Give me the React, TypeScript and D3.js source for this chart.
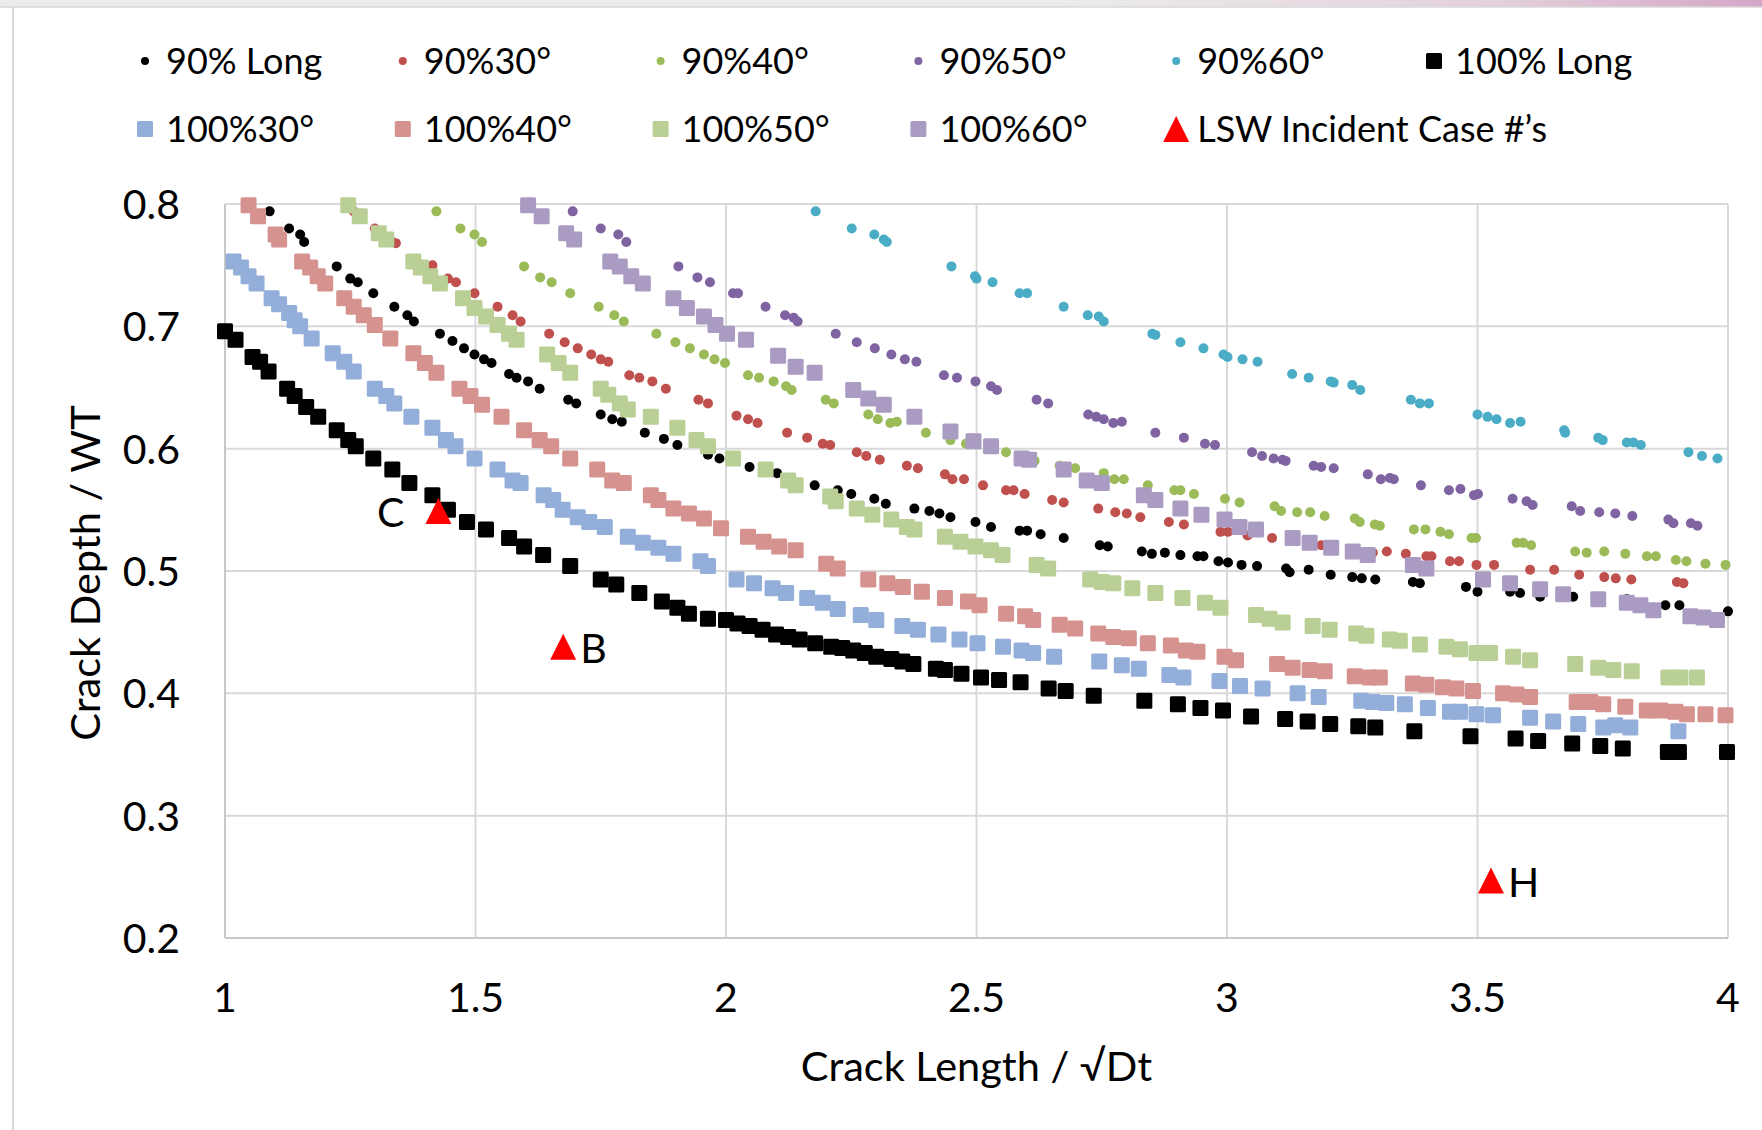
import React from 'react';
import * as d3 from 'd3';

// 90% series (small dots)
const long90: [number, number][] = [
  [1.089,0.794],[1.128,0.780],[1.150,0.775],[1.158,0.769],[1.223,0.749],[1.250,0.739],[1.265,0.736],[1.296,0.727],
  [1.338,0.716],[1.364,0.709],[1.377,0.704],[1.429,0.694],[1.454,0.688],[1.477,0.682],[1.498,0.677],[1.517,0.673],
  [1.532,0.670],[1.567,0.661],[1.582,0.658],[1.605,0.655],[1.628,0.649],[1.685,0.640],[1.701,0.637],[1.750,0.628],
  [1.773,0.624],[1.792,0.622],[1.838,0.613],[1.876,0.608],[1.903,0.603],[1.964,0.595],[1.987,0.592],[2.047,0.585],
  [2.102,0.580],[2.177,0.570],[2.223,0.566],[2.250,0.563],[2.296,0.559],[2.319,0.555],[2.376,0.551],[2.406,0.549],
  [2.426,0.547],[2.448,0.544],[2.498,0.540],[2.529,0.536],[2.586,0.533],[2.601,0.533],[2.628,0.530],[2.674,0.527],
  [2.746,0.521],[2.762,0.520],[2.830,0.516],[2.850,0.514],[2.876,0.515],[2.907,0.513],[2.941,0.512],[2.953,0.512],
  [2.983,0.508],[3.002,0.507],[3.029,0.505],[3.060,0.504],[3.118,0.502],[3.125,0.499],[3.163,0.501],[3.207,0.497],
  [3.250,0.495],[3.269,0.494],[3.296,0.493],[3.371,0.491],[3.385,0.490],[3.477,0.487],[3.500,0.483],[3.565,0.483],
  [3.585,0.482],[3.625,0.479],[3.691,0.479],[3.798,0.477],[3.875,0.472],[3.903,0.472],[4.000,0.467],
];

const deg30_90: [number, number][] = [
  [1.257,0.794],[1.299,0.780],[1.334,0.769],[1.341,0.768],[1.414,0.750],[1.445,0.739],[1.461,0.736],[1.498,0.727],
  [1.544,0.716],[1.574,0.709],[1.590,0.704],[1.647,0.694],[1.678,0.687],[1.704,0.682],[1.731,0.677],[1.750,0.673],
  [1.765,0.671],[1.807,0.660],[1.827,0.658],[1.853,0.655],[1.880,0.649],[1.945,0.640],[1.964,0.637],[2.021,0.627],
  [2.044,0.624],[2.063,0.621],[2.122,0.613],[2.162,0.609],[2.193,0.604],[2.208,0.603],[2.261,0.597],[2.280,0.594],
  [2.307,0.591],[2.361,0.586],[2.383,0.584],[2.437,0.579],[2.452,0.575],[2.475,0.575],[2.513,0.570],[2.559,0.566],
  [2.574,0.566],[2.596,0.563],[2.651,0.558],[2.674,0.556],[2.743,0.551],[2.777,0.548],[2.800,0.547],[2.827,0.544],
  [2.884,0.540],[2.914,0.538],[2.987,0.532],[3.002,0.532],[3.041,0.529],[3.090,0.527],[3.188,0.521],[3.291,0.515],
  [3.319,0.516],[3.357,0.514],[3.398,0.512],[3.408,0.512],[3.445,0.508],[3.463,0.508],[3.498,0.505],[3.533,0.505],
  [3.605,0.501],[3.653,0.501],[3.703,0.497],[3.753,0.495],[3.776,0.494],[3.807,0.493],[3.898,0.491],[3.911,0.490],
];

const deg40_90: [number, number][] = [
  [1.422,0.794],[1.470,0.780],[1.498,0.775],[1.513,0.769],[1.597,0.749],[1.629,0.740],[1.652,0.736],[1.689,0.727],
  [1.746,0.716],[1.777,0.709],[1.796,0.704],[1.861,0.694],[1.899,0.687],[1.928,0.682],[1.956,0.677],[1.977,0.673],
  [1.998,0.670],[2.044,0.660],[2.066,0.658],[2.095,0.655],[2.120,0.651],[2.131,0.648],[2.199,0.640],[2.215,0.637],
  [2.284,0.628],[2.303,0.624],[2.328,0.621],[2.341,0.622],[2.399,0.613],[2.448,0.607],[2.479,0.604],[2.559,0.597],
  [2.616,0.590],[2.666,0.586],[2.697,0.584],[2.754,0.580],[2.775,0.575],[2.794,0.575],[2.842,0.570],[2.895,0.566],
  [2.907,0.566],[2.934,0.563],[2.996,0.559],[3.025,0.556],[3.095,0.553],[3.108,0.549],[3.140,0.548],[3.166,0.548],
  [3.195,0.545],[3.255,0.543],[3.265,0.540],[3.295,0.538],[3.305,0.537],[3.373,0.534],[3.396,0.534],[3.426,0.532],
  [3.443,0.530],[3.488,0.527],[3.497,0.527],[3.578,0.523],[3.591,0.523],[3.607,0.521],[3.695,0.516],[3.718,0.515],
  [3.753,0.516],[3.795,0.514],[3.838,0.512],[3.856,0.512],[3.896,0.509],[3.917,0.508],[3.955,0.506],[3.995,0.505],
];

const deg50_90: [number, number][] = [
  [1.694,0.794],[1.750,0.780],[1.785,0.775],[1.801,0.769],[1.905,0.749],[1.943,0.740],[1.968,0.736],[2.014,0.727],
  [2.024,0.727],[2.079,0.716],[2.118,0.709],[2.135,0.707],[2.143,0.704],[2.219,0.694],[2.261,0.687],[2.297,0.682],
  [2.330,0.677],[2.357,0.673],[2.380,0.671],[2.435,0.660],[2.461,0.658],[2.498,0.655],[2.529,0.651],[2.541,0.648],
  [2.620,0.640],[2.643,0.637],[2.723,0.628],[2.739,0.626],[2.754,0.624],[2.773,0.621],[2.790,0.622],[2.857,0.613],
  [2.914,0.609],[2.956,0.604],[2.976,0.603],[3.050,0.597],[3.070,0.594],[3.093,0.592],[3.111,0.591],[3.117,0.590],
  [3.173,0.586],[3.188,0.585],[3.213,0.584],[3.281,0.579],[3.307,0.575],[3.325,0.576],[3.333,0.575],[3.387,0.570],
  [3.443,0.566],[3.466,0.567],[3.493,0.562],[3.501,0.563],[3.570,0.559],[3.598,0.557],[3.610,0.554],[3.688,0.553],
  [3.705,0.549],[3.743,0.548],[3.775,0.547],[3.809,0.545],[3.881,0.542],[3.891,0.539],[3.926,0.539],[3.939,0.537],
];

const deg60_90: [number, number][] = [
  [2.179,0.794],[2.251,0.780],[2.296,0.775],[2.315,0.771],[2.321,0.769],[2.450,0.749],[2.497,0.741],[2.500,0.739],
  [2.532,0.736],[2.586,0.727],[2.601,0.727],[2.674,0.716],[2.722,0.709],[2.744,0.708],[2.754,0.704],[2.851,0.694],
  [2.857,0.693],[2.907,0.687],[2.953,0.682],[2.993,0.677],[3.001,0.675],[3.031,0.673],[3.061,0.671],[3.130,0.661],
  [3.163,0.658],[3.207,0.655],[3.213,0.654],[3.250,0.652],[3.266,0.648],[3.367,0.640],[3.385,0.637],[3.403,0.637],
  [3.500,0.628],[3.520,0.626],[3.538,0.624],[3.565,0.621],[3.586,0.622],[3.673,0.615],[3.675,0.613],[3.741,0.609],
  [3.750,0.607],[3.798,0.605],[3.811,0.605],[3.826,0.603],[3.921,0.597],[3.948,0.594],[3.979,0.592],
];

// 100% series (squares)
const long100: [number, number][] = [
  [1.000,0.696],[1.021,0.689],[1.055,0.675],[1.070,0.671],[1.087,0.663],[1.124,0.649],[1.139,0.643],[1.162,0.634],
  [1.186,0.626],[1.223,0.615],[1.246,0.607],[1.261,0.602],[1.296,0.592],[1.334,0.583],[1.368,0.572],[1.414,0.562],
  [1.445,0.550],[1.483,0.540],[1.521,0.534],[1.567,0.527],[1.597,0.520],[1.635,0.513],[1.689,0.504],[1.750,0.493],
  [1.781,0.489],[1.827,0.482],[1.872,0.475],[1.903,0.470],[1.926,0.465],[1.964,0.461],[2.000,0.460],[2.023,0.457],
  [2.047,0.455],[2.073,0.452],[2.100,0.448],[2.124,0.446],[2.147,0.444],[2.178,0.441],[2.210,0.438],[2.232,0.437],
  [2.254,0.435],[2.277,0.433],[2.300,0.430],[2.330,0.428],[2.352,0.426],[2.374,0.424],[2.419,0.420],[2.437,0.419],
  [2.470,0.416],[2.509,0.413],[2.545,0.411],[2.588,0.409],[2.644,0.404],[2.678,0.402],[2.734,0.398],[2.835,0.394],
  [2.902,0.391],[2.947,0.388],[2.992,0.386],[3.048,0.381],[3.116,0.379],[3.161,0.377],[3.206,0.375],[3.262,0.373],
  [3.296,0.372],[3.374,0.369],[3.486,0.365],[3.576,0.363],[3.621,0.361],[3.689,0.359],[3.745,0.357],[3.790,0.355],
  [3.880,0.352],[3.902,0.352],[3.998,0.352],
];

const deg30_100: [number, number][] = [
  [1.017,0.753],[1.032,0.748],[1.047,0.741],[1.063,0.735],[1.093,0.723],[1.108,0.718],[1.128,0.711],[1.139,0.705],
  [1.150,0.700],[1.173,0.690],[1.215,0.678],[1.238,0.671],[1.257,0.663],[1.299,0.649],[1.322,0.643],[1.338,0.637],
  [1.372,0.626],[1.414,0.617],[1.441,0.607],[1.460,0.602],[1.498,0.592],[1.544,0.583],[1.574,0.574],[1.590,0.572],
  [1.636,0.562],[1.655,0.558],[1.674,0.550],[1.704,0.544],[1.727,0.540],[1.758,0.536],[1.804,0.528],[1.834,0.523],
  [1.865,0.519],[1.895,0.514],[1.949,0.508],[1.964,0.504],[2.021,0.493],[2.056,0.490],[2.093,0.486],[2.120,0.482],
  [2.162,0.478],[2.193,0.474],[2.223,0.469],[2.269,0.464],[2.300,0.460],[2.352,0.455],[2.383,0.452],[2.424,0.448],
  [2.466,0.444],[2.502,0.441],[2.553,0.438],[2.590,0.435],[2.613,0.433],[2.655,0.430],[2.745,0.426],[2.790,0.423],
  [2.824,0.420],[2.885,0.415],[2.913,0.413],[2.985,0.410],[3.026,0.406],[3.071,0.404],[3.141,0.400],[3.183,0.397],
  [3.268,0.394],[3.291,0.393],[3.318,0.392],[3.355,0.391],[3.401,0.388],[3.445,0.385],[3.465,0.385],[3.498,0.383],
  [3.531,0.382],[3.605,0.380],[3.651,0.377],[3.701,0.375],[3.751,0.372],[3.775,0.374],[3.805,0.372],[3.901,0.369],
];

const deg40_100: [number, number][] = [
  [1.047,0.799],[1.066,0.790],[1.101,0.775],[1.108,0.771],[1.154,0.753],[1.170,0.748],[1.185,0.741],[1.200,0.735],
  [1.238,0.723],[1.257,0.716],[1.277,0.709],[1.299,0.701],[1.330,0.690],[1.376,0.678],[1.399,0.670],[1.422,0.662],
  [1.468,0.649],[1.490,0.643],[1.513,0.636],[1.552,0.626],[1.597,0.615],[1.628,0.607],[1.651,0.602],[1.689,0.592],
  [1.743,0.583],[1.773,0.574],[1.796,0.572],[1.850,0.562],[1.865,0.558],[1.895,0.551],[1.926,0.547],[1.956,0.543],
  [1.990,0.535],[2.044,0.528],[2.075,0.524],[2.106,0.520],[2.139,0.517],[2.200,0.506],[2.223,0.502],[2.284,0.493],
  [2.322,0.490],[2.353,0.487],[2.391,0.483],[2.437,0.478],[2.483,0.475],[2.506,0.472],[2.559,0.465],[2.597,0.463],
  [2.613,0.460],[2.666,0.456],[2.697,0.453],[2.743,0.449],[2.773,0.446],[2.804,0.445],[2.842,0.441],[2.888,0.439],
  [2.918,0.435],[2.941,0.434],[2.995,0.430],[3.018,0.427],[3.100,0.424],[3.131,0.421],[3.165,0.419],[3.195,0.418],
  [3.255,0.414],[3.285,0.413],[3.305,0.413],[3.371,0.408],[3.398,0.407],[3.431,0.405],[3.458,0.404],[3.491,0.402],
  [3.551,0.400],[3.578,0.399],[3.605,0.397],[3.698,0.393],[3.725,0.393],[3.751,0.391],[3.795,0.389],[3.838,0.386],
  [3.865,0.386],[3.895,0.385],[3.918,0.383],[3.955,0.383],[3.995,0.382],
];

const deg50_100: [number, number][] = [
  [1.246,0.799],[1.269,0.790],[1.307,0.776],[1.322,0.771],[1.376,0.753],[1.391,0.748],[1.410,0.741],[1.429,0.735],
  [1.475,0.723],[1.498,0.715],[1.521,0.708],[1.544,0.701],[1.567,0.694],[1.582,0.689],[1.643,0.677],[1.666,0.670],
  [1.689,0.662],[1.750,0.649],[1.765,0.644],[1.788,0.637],[1.804,0.632],[1.850,0.626],[1.903,0.617],[1.941,0.607],
  [1.964,0.602],[2.014,0.592],[2.079,0.583],[2.124,0.574],[2.139,0.570],[2.208,0.561],[2.219,0.557],[2.261,0.551],
  [2.292,0.546],[2.330,0.542],[2.361,0.536],[2.376,0.534],[2.437,0.528],[2.468,0.524],[2.498,0.520],[2.529,0.517],
  [2.552,0.513],[2.620,0.505],[2.643,0.502],[2.727,0.493],[2.750,0.491],[2.773,0.490],[2.811,0.486],[2.857,0.482],
  [2.911,0.478],[2.956,0.474],[2.987,0.470],[3.058,0.464],[3.085,0.461],[3.111,0.458],[3.171,0.455],[3.205,0.452],
  [3.258,0.449],[3.278,0.447],[3.325,0.444],[3.345,0.443],[3.385,0.440],[3.438,0.438],[3.465,0.436],[3.498,0.433],
  [3.525,0.433],[3.571,0.430],[3.605,0.427],[3.695,0.424],[3.741,0.421],[3.771,0.419],[3.808,0.418],[3.881,0.413],
  [3.905,0.413],[3.938,0.413],
];

const deg60_100: [number, number][] = [
  [1.605,0.799],[1.632,0.790],[1.681,0.776],[1.697,0.771],[1.769,0.753],[1.788,0.749],[1.811,0.741],[1.834,0.735],
  [1.895,0.723],[1.922,0.715],[1.956,0.708],[1.979,0.701],[2.002,0.694],[2.040,0.689],[2.104,0.676],[2.139,0.667],
  [2.177,0.662],[2.254,0.648],[2.284,0.641],[2.315,0.636],[2.376,0.626],[2.448,0.614],[2.494,0.606],[2.529,0.602],
  [2.590,0.592],[2.605,0.591],[2.674,0.583],[2.720,0.574],[2.750,0.572],[2.834,0.562],[2.857,0.558],[2.907,0.551],
  [2.949,0.546],[2.995,0.542],[3.025,0.536],[3.058,0.534],[3.131,0.527],[3.165,0.523],[3.208,0.519],[3.251,0.516],
  [3.281,0.513],[3.371,0.505],[3.398,0.502],[3.511,0.493],[3.565,0.490],[3.625,0.485],[3.671,0.481],[3.741,0.477],
  [3.798,0.474],[3.825,0.472],[3.851,0.468],[3.925,0.463],[3.951,0.462],[3.978,0.460],
];

// LSW incident cases
const lswX = [1.426, 1.675, 3.527];
const lswY = [0.549, 0.438, 0.247];
const lswLabels = ['C', 'B', 'H'];

const xTicks = [1, 1.5, 2, 2.5, 3, 3.5, 4];
const yTicks = [0.2, 0.3, 0.4, 0.5, 0.6, 0.7, 0.8];

type Shape = 'dot' | 'square' | 'triangle';
const seriesNames = ['90% Long', '90%30°', '90%40°', '90%50°', '90%60°', '100% Long',
  '100%30°', '100%40°', '100%50°', '100%60°', 'LSW Incident Case #’s'];
const seriesColors = ['#000000', '#C0504D', '#9BBB59', '#8064A2', '#4BACC6', '#000000',
  '#93AED9', '#D5928F', '#BACF96', '#AA9BC2', '#FF0000'];
const seriesShapes: Shape[] = ['dot', 'dot', 'dot', 'dot', 'dot', 'square',
  'square', 'square', 'square', 'square', 'triangle'];
const seriesData = [long90, deg30_90, deg40_90, deg50_90, deg60_90, long100,
  deg30_100, deg40_100, deg50_100, deg60_100];

const FONT = 'Lato, "Open Sans", sans-serif';
const W = 1762, H = 1130;
const left = 225, right = 1728, top = 204, bottom = 938;

function Marker({ shape, cx, cy, color, legend }: { shape: Shape; cx: number; cy: number; color: string; legend?: boolean }) {
  if (shape === 'dot') return <circle cx={cx} cy={cy} r={legend ? 4 : 5} fill={color} />;
  if (shape === 'square') return <rect x={cx - 8} y={cy - 8} width={16} height={16} rx={1.5} fill={color} />;
  const s = 13;
  return <path d={`M${cx},${cy - s}L${cx + s},${cy + s}L${cx - s},${cy + s}Z`} fill={color} />;
}

export default function App() {
  const x = d3.scaleLinear().domain([1, 4]).range([left, right]);
  const y = d3.scaleLinear().domain([0.2, 0.8]).range([bottom, top]);
  const fmt = d3.format('');

  return (
    <svg width={W} height={H} viewBox={`0 0 ${W} ${H}`}
      style={{ position: 'absolute', left: 0, top: 0, background: '#fff', fontFamily: FONT }}>
      <defs>
        <linearGradient id="topband" x1="0" x2="1" y1="0" y2="0">
          <stop offset="0" stopColor="#ECECEC" />
          <stop offset="0.6" stopColor="#ECECEC" />
          <stop offset="0.85" stopColor="#E3D0DC" />
          <stop offset="1" stopColor="#D5A6C6" />
        </linearGradient>
      </defs>
      <rect x={0} y={0} width={W} height={H} fill="#fff" />
      <rect x={0} y={0} width={W} height={7} fill="url(#topband)" />
      <line x1={0} x2={W} y1={7} y2={7} stroke="#D9D9D9" strokeWidth={1.5} />
      <line x1={13} x2={13} y1={7} y2={H} stroke="#D9D9D9" strokeWidth={2} />

      {/* gridlines */}
      {yTicks.filter(t => t > 0.2).map(t => (
        <line key={'gy' + t} x1={left} x2={right} y1={y(t)} y2={y(t)} stroke="#D9D9D9" strokeWidth={2} />
      ))}
      {xTicks.filter(t => t > 1).map(t => (
        <line key={'gx' + t} x1={x(t)} x2={x(t)} y1={top} y2={bottom} stroke="#D9D9D9" strokeWidth={2} />
      ))}
      <line x1={left} x2={left} y1={top} y2={bottom} stroke="#C8C8C8" strokeWidth={2} />
      <line x1={left} x2={right} y1={bottom} y2={bottom} stroke="#C8C8C8" strokeWidth={2} />

      {/* tick labels */}
      {yTicks.map(t => (
        <text key={'ty' + t} x={180} y={y(t) + 15} textAnchor="end" fontSize={41} fill="#000">{t.toFixed(1)}</text>
      ))}
      {xTicks.map(t => (
        <text key={'tx' + t} x={x(t)} y={1012} textAnchor="middle" fontSize={41} fill="#000">{fmt(t)}</text>
      ))}

      {/* axis titles */}
      <text x={(left + right) / 2} y={1081} textAnchor="middle" fontSize={41.5} fill="#000">Crack Length / √Dt</text>
      <text transform={`translate(100,${(top + bottom) / 2 + 2}) rotate(-90)`} textAnchor="middle" fontSize={41.5} fill="#000">Crack Depth / WT</text>

      {/* series */}
      {seriesData.map((data, i) => (
        <g key={'s' + i}>
          {data.map((d, j) => (
            <Marker key={j} shape={seriesShapes[i]} cx={x(d[0])} cy={y(d[1])} color={seriesColors[i]} />
          ))}
        </g>
      ))}
      <g>
        {lswX.map((v, i) => (
          <Marker key={'t' + i} shape="triangle" cx={x(v)} cy={y(lswY[i])} color="#FF0000" />
        ))}
        {lswLabels.map((lab, i) => (
          <text key={'tl' + i} x={lab === 'C' ? x(lswX[i]) - 34 : x(lswX[i]) + 17} y={y(lswY[i]) + 16}
            textAnchor={lab === 'C' ? 'end' : 'start'} fontSize={41} fill="#000">{lab}</text>
        ))}
      </g>

      {/* legend */}
      {seriesNames.map((name, i) => {
        const col = i < 6 ? i : i - 6;
        const row = i < 6 ? 0 : 1;
        const mx = 145 + col * 257.8;
        const my = row === 0 ? 61 : 129;
        return (
          <g key={'l' + i}>
            <Marker shape={seriesShapes[i]} cx={mx} cy={my} color={seriesColors[i]} legend />
            <text x={mx + 21} y={my + 13} fontSize={36} fill="#000">{name}</text>
          </g>
        );
      })}
    </svg>
  );
}
